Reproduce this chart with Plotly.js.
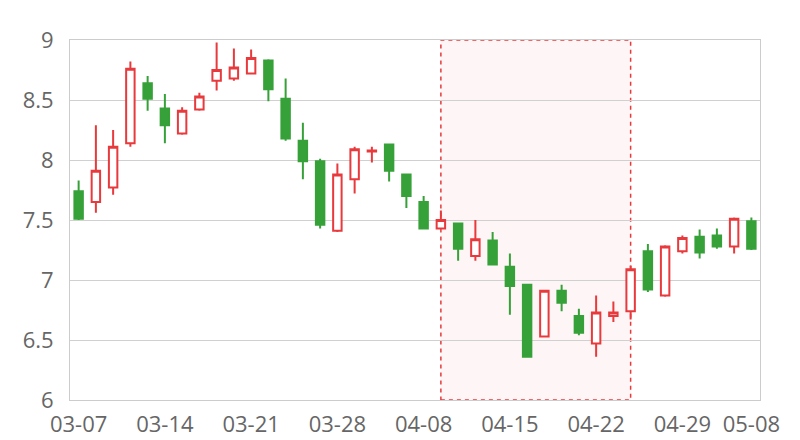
<!DOCTYPE html>
<html>
<head>
<meta charset="utf-8">
<script src="https://cdn.plot.ly/plotly-3.0.1.min.js"></script>
<style>html,body{margin:0;padding:0;background:#fff;}#chart{width:800px;height:440px;}</style>
</head>
<body>
<div id="chart"></div>
<script>
const dates = ["03-07","03-08","03-11","03-12","03-13","03-14","03-15","03-18","03-19","03-20",
  "03-21","03-22","03-25","03-26","03-27","03-28","03-29","04-01","04-02","04-03",
  "04-08","04-09","04-10","04-11","04-12","04-15","04-16","04-17","04-18","04-19",
  "04-22","04-23","04-24","04-25","04-26","04-29","04-30","05-06","05-07","05-08"];
const open  = [7.74,7.65,7.77,8.14,8.64,8.43,8.22,8.42,8.66,8.68,
  8.72,8.83,8.51,8.16,7.99,7.41,7.84,8.07,8.13,7.88,
  7.65,7.43,7.47,7.20,7.33,7.11,6.96,6.53,6.91,6.70,
  6.47,6.70,6.74,7.24,6.87,7.24,7.36,7.37,7.28,7.49];
const close = [7.51,7.91,8.11,8.76,8.51,8.29,8.41,8.53,8.75,8.77,
  8.85,8.59,8.18,7.99,7.46,7.88,8.09,8.08,7.91,7.70,
  7.43,7.50,7.26,7.34,7.13,6.95,6.36,6.91,6.81,6.56,
  6.73,6.73,7.09,6.92,7.28,7.35,7.23,7.28,7.51,7.26];
const high  = [7.83,8.29,8.25,8.82,8.70,8.55,8.44,8.56,8.98,8.93,
  8.92,8.84,8.68,8.31,8.01,7.97,8.11,8.11,8.13,7.88,
  7.70,7.58,7.48,7.50,7.40,7.22,6.96,6.91,6.96,6.76,
  6.87,6.82,7.12,7.30,7.29,7.37,7.42,7.43,7.52,7.52];
const low   = [7.50,7.56,7.71,8.11,8.41,8.14,8.21,8.41,8.58,8.66,
  8.72,8.49,8.16,7.84,7.43,7.40,7.72,7.98,7.82,7.60,
  7.42,7.42,7.16,7.16,7.13,6.71,6.36,6.53,6.74,6.54,
  6.36,6.65,6.67,6.90,6.86,7.22,7.18,7.26,7.22,7.25];
const tickLabels = ["03-07","03-14","03-21","03-28","04-08","04-15","04-22","04-29","05-08"];
const yTicks = [6,6.5,7,7.5,8,8.5,9];
const highlightStart = "04-09";
const highlightEnd = "04-24";

const red = "#e8393c", green = "#36a138";
const trace = {
  type: "candlestick",
  x: dates, open: open, high: high, low: low, close: close,
  increasing: {line: {color: red, width: 2}, fillcolor: "#ffffff"},
  decreasing: {line: {color: green, width: 2}, fillcolor: green},
  whiskerwidth: 0,
  hoverinfo: "skip",
  showlegend: false
};
const idx = d => dates.indexOf(d);
const layout = {
  width: 800, height: 440,
  margin: {l: 70, r: 40, t: 40, b: 40},
  paper_bgcolor: "#fff", plot_bgcolor: "#fff",
  font: {family: "Open Sans, Noto Sans, sans-serif", size: 22, color: "#666"},
  showlegend: false,
  xaxis: {
    type: "category", categoryorder: "array", categoryarray: dates,
    range: [-0.5, dates.length - 0.5],
    tickmode: "array", tickvals: tickLabels, ticktext: tickLabels,
    showgrid: false, showline: true, linecolor: "#ccc", linewidth: 1, mirror: true,
    ticks: "", ticklabelstandoff: 5,
    rangeslider: {visible: false}, fixedrange: true
  },
  yaxis: {
    range: [6, 9], tickmode: "array", tickvals: yTicks, ticktext: yTicks.map(String),
    showgrid: true, gridcolor: "#d0d0d0", gridwidth: 1,
    showline: true, linecolor: "#ccc", linewidth: 1, mirror: true,
    zeroline: false, ticks: "", ticklabelstandoff: 11, fixedrange: true
  },
  shapes: [{
    type: "rect", xref: "x", yref: "y",
    x0: idx(highlightStart), x1: idx(highlightEnd), y0: 6, y1: 9,
    fillcolor: "rgba(250,220,220,0.25)",
    line: {color: "#e8393c", width: 1.5, dash: "4px,4px"},
    layer: "below"
  }]
};
Plotly.newPlot("chart", [trace], layout, {staticPlot: true, displayModeBar: false});
</script>
</body>
</html>
